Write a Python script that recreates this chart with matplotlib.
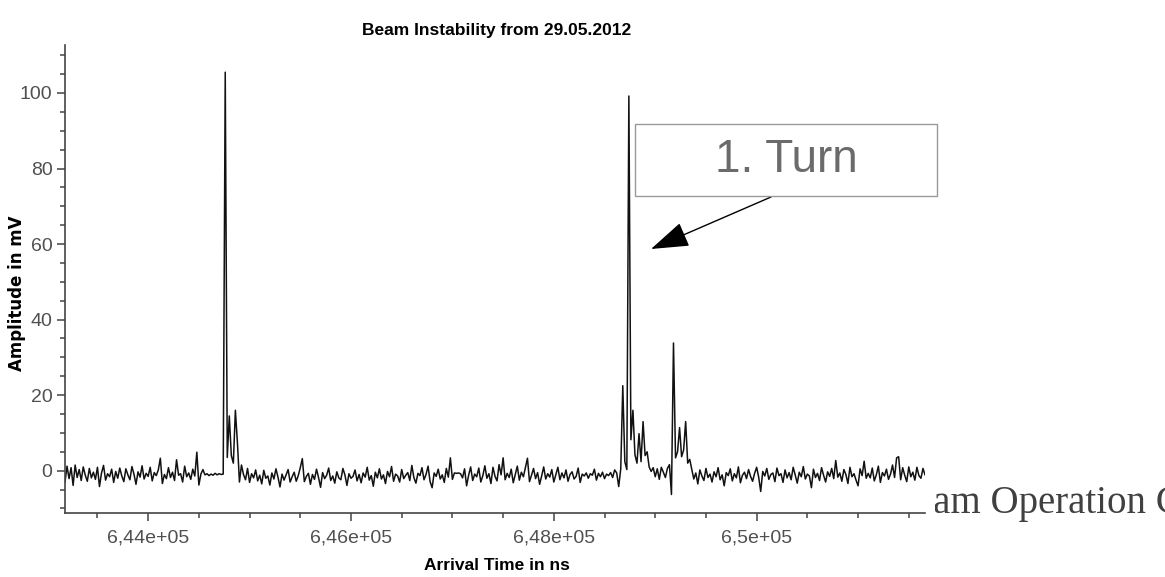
import numpy as np
import matplotlib
matplotlib.use('Agg')
import matplotlib.pyplot as plt
from matplotlib.patches import Rectangle
from matplotlib.ticker import MultipleLocator, FixedLocator, FixedFormatter

# sampling of the scope trace
sample_start_ns = 643180
sample_step_ns = 20

# baseline before the first bunch
noise_a = [-3.0, 1.2, -2.1, 0.8, -3.9, 1.5, -1.8, 0.3, -2.6, 1.0,
           -1.2, -2.8, 0.6, -1.9, -0.4, -2.3, 0.9, -4.2, -0.6, 1.4,
           -2.5, -0.8, -1.6, 0.4, -3.1, -0.2, -2.0, 0.7, -1.4, -2.9,
           0.5, -1.1, -2.4, 1.1, -0.9, -3.6, -0.3, -1.7, 1.3, -2.2,
           -0.7, -1.5, 0.9, -2.7, -0.5, -1.3, 0.2, 3.3, -3.4, -1.0,
           -2.1, 0.8, -1.8, -0.4, -2.6, 2.9, -1.2, -0.8, -3.0, 1.2,
           -1.6, -0.6, -2.3, 0.4, -1.4, 4.9, -3.8, -0.9, 0.3, -1.1,
           -0.8, -1.3, -0.9, -1.2, -0.7, -1.1, -0.8, -1.0, -0.9]
pulse_1 = [105.5, 3.5, 14.5, 4.0, 2.0, 16.0, 7.5, -3.0, 1.5]
noise_b = [-1.0, -2.4, 0.6, -3.1, -0.8, -1.9, 0.2, -2.7, -1.2, -3.5,
           0.1, -2.0, -1.4, -3.8, -0.6, -2.2, 0.5, -1.7, -4.3, -0.9,
           -2.5, -1.1, 0.3, -3.0, -1.6, -0.4, -2.8, -1.3, 0.8, 3.2,
           -2.9, -1.5, -0.7, -3.6, -1.0, -2.3, 0.4, -1.8, -4.4, -0.5,
           -2.1, -1.2, 0.7, -2.6, -1.4, -3.3, -0.3, -1.9, -2.4, 0.6,
           -1.1, -3.9, -0.8, -2.0, -1.5, 0.2, -2.7, -1.0, -3.2, -0.6,
           -1.7, 0.9, -2.5, -1.3, -4.1, -0.4, -1.9, 0.5, -2.2, -1.1,
           -3.4, -0.2, -1.6, 1.1, -2.8, -0.9, -1.4, -3.0, 0.3, -2.1,
           -1.2, -0.5, -2.6, 1.4, -1.8, -3.3, -0.7, -1.3, 0.8, -2.4,
           -1.0, 1.2, -2.9, -4.5, -0.6, -1.5, 0.4, -2.2, -1.1, -3.1,
           0.6, -1.7, 3.4, -2.3, -0.6, -0.7, -0.6, -0.8, -1.9, 0.5,
           -4.0, -1.2, 1.0, -2.6, -0.9, -1.6, 0.7, -3.0, -1.3, 1.3,
           -2.0, -0.8, -3.4, 0.9, -1.5, -2.7, 1.6, -1.1, 3.4, -2.4,
           -0.7, -1.8, 0.4, -3.2, -1.0, 1.2, -2.5, -0.4, -1.6, 0.8,
           3.3, -2.9, -1.2, 0.6, -2.1, -0.5, -3.6, -1.4, 1.0, -2.2,
           -0.8, -1.7, 0.3, -3.0, -1.1, 0.9, -2.4, -0.6, -1.9, 0.2,
           -2.8, -1.0, -0.3, -2.2, -1.5, 0.7, -3.1, -0.9, -1.4, -0.6,
           -2.0, -0.8, -1.2, 0.4, -2.5, -0.7, -1.6, -0.4, -2.1, -0.9,
           -1.3, -0.5, -1.8, 0.2, -0.6, -4.2]
pulse_2 = [0.5, 22.5, 2.4, 0.3, 99.2, 8.2, 16.0, 4.2, 2.0, 9.8,
           2.4, 13.0, 4.0, 5.0, 1.0]
noise_c = [-0.2, 0.8, -1.6, 0.5, -2.3, 0.9, -0.4, -1.8, 0.6, 1.6]
pulse_3 = [-6.3, 33.8, 3.4, 5.0, 11.4, 3.7, 5.5, 13.0, 2.0, 3.0]
noise_d = [0.4, -2.2, -0.6, -3.5, 0.2, -1.4, -2.6, 0.6, -1.8,
           -0.9, -3.0, -0.3, -1.6, 0.8, -2.4, -1.1, -4.0, -0.5, -1.3,
           0.5, -2.7, -0.8, -1.9, 1.0, -3.2, -1.2, -0.4, -2.1, 0.3,
           -1.5, -2.8, -0.7, 0.9, -1.7, -5.5, -0.2, -1.4, 0.6, -2.3,
           -1.0, -0.6, -2.9, 0.7, -1.3, -0.8, -3.1, 0.2, -1.9, -0.5,
           -2.4, 0.9, -1.1, -3.3, -0.4, -1.6, 1.1, -2.2, -0.9, -1.4,
           -4.5, 0.4, -1.8, -0.7, -2.6, 0.8, -1.2, -3.0, -0.3, -1.5,
           0.6, -2.1, 2.7, -1.7, -0.6, -2.8, 0.3, -1.0, -3.4, 0.9,
           -1.6, -0.8, -2.5, -4.0, 0.5, -1.3, 2.5, -2.0, -0.7, -1.9,
           0.7, -2.7, -1.1, 1.2, -3.1, -0.5, -1.4, 0.4, -2.3, -0.9,
           1.5, -1.8, 3.4, 3.7, -2.4, 0.8, -1.2, -2.9, 1.0, -1.6,
           -0.4, -2.5, 0.9, -1.3, -2.0, 0.6, -1.1]

x_ticks = [644000, 646000, 648000, 650000]
x_tick_labels = ['6,44e+05', '6,46e+05', '6,48e+05', '6,5e+05']
y_ticks = [0, 20, 40, 60, 80, 100]

amplitude = np.array(noise_a + pulse_1 + noise_b + pulse_2 + noise_c + pulse_3 + noise_d)
arrival = sample_start_ns + sample_step_ns * np.arange(len(amplitude))

sans = ['Liberation Sans', 'DejaVu Sans']
axis_grey = '#444444'

W, H = 1165, 577
fig = plt.figure(figsize=(W / 100, H / 100), dpi=100)

# slide text sitting behind the chart image
fig.text(890 / W, 1 - 513 / H, 'Beam Operation Center', fontsize=28,
         family='Liberation Serif', color='#404040', va='baseline', zorder=-2)
fig.patches.append(Rectangle((0, 0), 935 / W, 1, transform=fig.transFigure,
                             facecolor='white', edgecolor='none', zorder=-1))

ax = fig.add_axes([65 / W, 1 - 513 / H, (925 - 65) / W, (513 - 45) / H])
ax.patch.set_alpha(0)
ax.plot(arrival, amplitude, color='#111111', lw=1.1)

ax.set_xlim(arrival[0], arrival[-1])
ax.set_ylim(-11.2, 112.7)

for side in ['top', 'right']:
    ax.spines[side].set_visible(False)
for side in ['left', 'bottom']:
    ax.spines[side].set_color(axis_grey)
    ax.spines[side].set_linewidth(1.2)

ax.xaxis.set_major_locator(FixedLocator(x_ticks))
ax.xaxis.set_major_formatter(FixedFormatter(x_tick_labels))
ax.xaxis.set_minor_locator(MultipleLocator(500))
ax.yaxis.set_major_locator(FixedLocator(y_ticks))
ax.yaxis.set_minor_locator(MultipleLocator(5))
ax.tick_params(which='major', length=6, width=1.1, color=axis_grey,
               labelcolor='#505050', labelsize=14, pad=3)
ax.tick_params(axis='x', which='major', pad=6)
ax.tick_params(which='minor', length=3.5, width=1.1, color=axis_grey)
for lbl in ax.get_xticklabels() + ax.get_yticklabels():
    lbl.set_family(sans)

fig.text(497 / W, 1 - 30 / H, 'Beam Instability from 29.05.2012', fontsize=12.5,
         fontweight='bold', family=sans, ha='center', va='center')
fig.text(497 / W, 1 - 565 / H, 'Arrival Time in ns', fontsize=12.5,
         fontweight='bold', family=sans, ha='center', va='center')
fig.text(17 / W, 1 - 293 / H, 'Amplitude in mV', fontsize=12,
         fontweight='bold', family='DejaVu Sans', rotation=90,
         ha='center', va='center')

# callout box pointing at the first turn
fig.patches.append(Rectangle((635 / W, 1 - 196 / H), 302 / W, 72 / H,
                             transform=fig.transFigure, facecolor='white',
                             edgecolor='#999999', lw=1.0, zorder=3))
fig.text(786 / W, 1 - 160 / H, '1. Turn', fontsize=33, family='Liberation Sans',
         color='#6b6b6b', ha='center', va='center', zorder=4)
ax.annotate('', xy=(651 / W, 1 - 249 / H), xytext=(771 / W, 1 - 197 / H),
            xycoords='figure fraction', textcoords='figure fraction',
            arrowprops=dict(arrowstyle='-|>,head_length=2.4,head_width=0.8',
                            mutation_scale=10, color='black', lw=1.0,
                            shrinkA=0, shrinkB=0))

fig.savefig('out.png', dpi=100)
